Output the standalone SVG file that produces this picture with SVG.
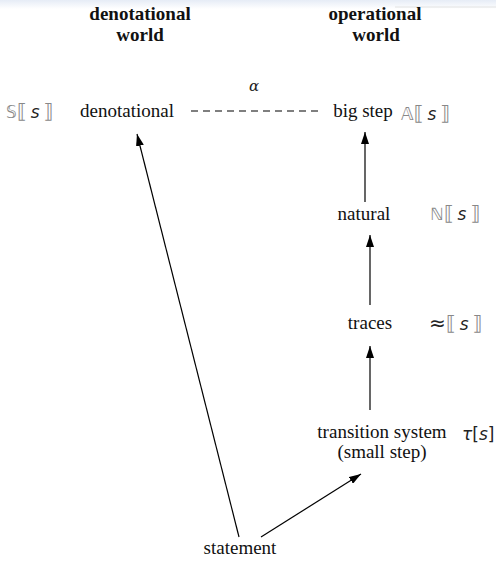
<svg xmlns="http://www.w3.org/2000/svg" width="496" height="561" viewBox="0 0 496 561">
<style>
.t{font-family:"Liberation Serif","Tinos","Times New Roman",serif;font-size:19px;fill:#111;text-anchor:middle}
.h{font-family:"Liberation Serif","Tinos","Times New Roman",serif;font-size:19px;font-weight:bold;fill:#111;text-anchor:middle}
.m{font-family:"DejaVu Sans","Noto Sans",sans-serif;font-size:17px;fill:#222}
.b{font-size:20px;fill:#888}
.ds{fill:#888}
.i{font-style:italic}
.c{stroke:#000;stroke-width:1.2;fill:none}
</style>
<defs>
<linearGradient id="top" x1="0" y1="0" x2="0" y2="1">
<stop offset="0" stop-color="#e6ecf6"/>
<stop offset="1" stop-color="#ffffff"/>
</linearGradient>
<marker id="ah" viewBox="0 0 12 8" refX="12" refY="4" markerWidth="12" markerHeight="8" markerUnits="userSpaceOnUse" orient="auto">
<path d="M0,0 L12,4 L0,8 Z" fill="#000"/>
</marker>
</defs>
<rect x="0" y="0" width="496" height="561" fill="#fff"/>
<rect x="0" y="0" width="496" height="9" fill="url(#top)"/>
<line x1="395" y1="7" x2="496" y2="7" stroke="#e2e2e2" stroke-width="1"/>

<g id="headings">
<text class="h" x="140" y="20">denotational</text>
<text class="h" x="140" y="41">world</text>
<text class="h" x="375" y="20">operational</text>
<text class="h" x="376" y="41">world</text>
</g>

<g id="n-denotational">
<text class="t" x="127" y="117">denotational</text>
<text class="m" x="6" y="118"><tspan class="ds">𝕊</tspan><tspan class="b">⟦</tspan><tspan class="i" dx="4">s</tspan><tspan class="b" dx="4">⟧</tspan></text>
</g>
<g id="n-bigstep">
<text class="t" x="363" y="117">big step</text>
<text class="m" x="401" y="120"><tspan class="ds">𝔸</tspan><tspan class="b">⟦</tspan><tspan class="i" dx="4">s</tspan><tspan class="b" dx="4">⟧</tspan></text>
</g>
<g id="n-natural">
<text class="t" x="364" y="220">natural</text>
<text class="m" x="430" y="220"><tspan class="ds">ℕ</tspan><tspan class="b">⟦</tspan><tspan class="i" dx="4">s</tspan><tspan class="b" dx="4">⟧</tspan></text>
</g>
<g id="n-traces">
<text class="t" x="370" y="329">traces</text>
<text class="m" x="429" y="330"><tspan font-size="20">≈</tspan><tspan class="b">⟦</tspan><tspan class="i" dx="4">s</tspan><tspan class="b" dx="4">⟧</tspan></text>
</g>
<g id="n-transition">
<text class="t" x="382" y="438">transition system</text>
<text class="t" x="382" y="458">(small step)</text>
<text class="m" x="462" y="440"><tspan class="i">τ</tspan>[<tspan class="i">s</tspan>]</text>
</g>
<g id="n-statement">
<text class="t" x="240" y="554">statement</text>
</g>

<g id="connectors">
<line x1="191" y1="111" x2="320" y2="111" stroke="#000" stroke-width="1.2" stroke-dasharray="7,5"/>
<text x="254" y="91" font-family="DejaVu Serif, serif" font-style="italic" font-size="15" fill="#222" text-anchor="middle">α</text>
<line class="c" x1="365" y1="202" x2="365" y2="132" stroke="#666" marker-end="url(#ah)"/>
<line class="c" x1="370" y1="305" x2="370" y2="235" marker-end="url(#ah)"/>
<line class="c" x1="370" y1="410" x2="370" y2="346" marker-end="url(#ah)"/>
<line class="c" x1="239" y1="537" x2="137" y2="134" marker-end="url(#ah)"/>
<line class="c" x1="261" y1="537" x2="361" y2="474" marker-end="url(#ah)"/>
</g>
</svg>
